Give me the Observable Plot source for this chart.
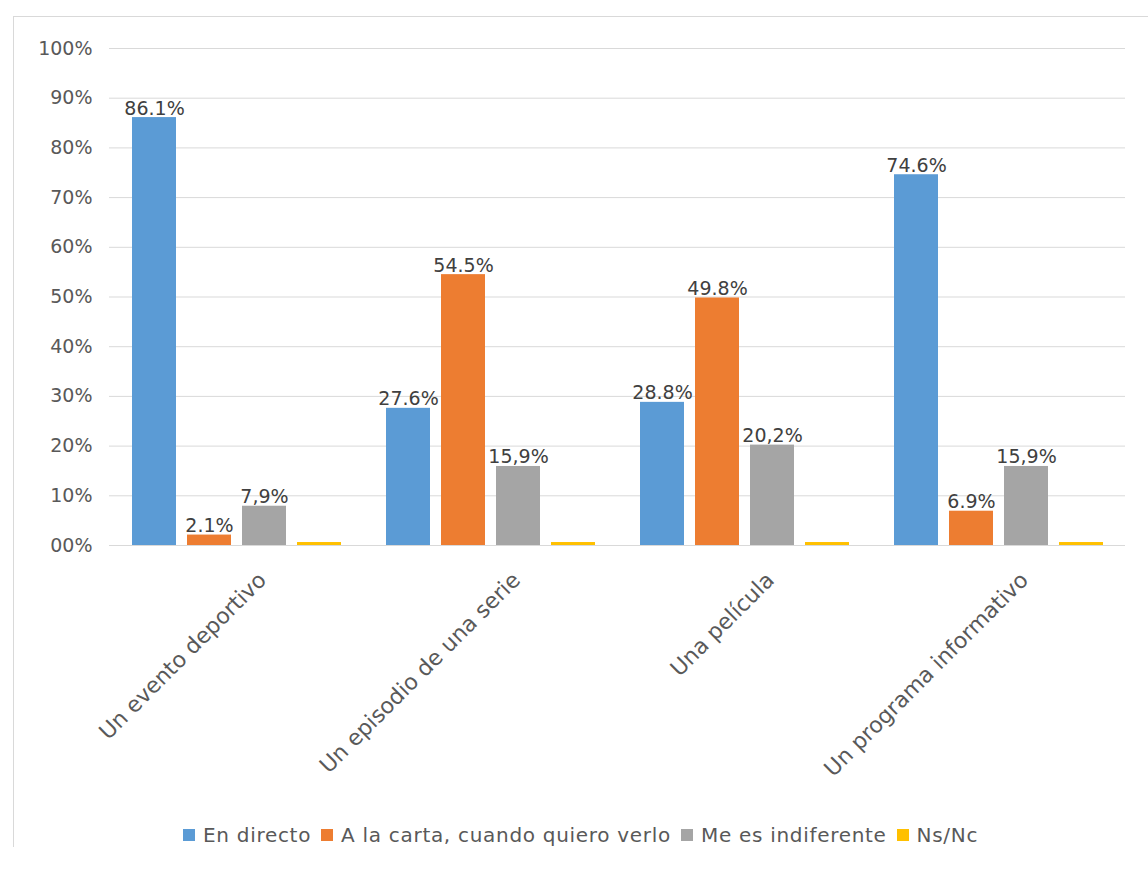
<!DOCTYPE html>
<html>
<head>
<meta charset="utf-8">
<script src="https://cdn.jsdelivr.net/npm/d3@7"></script>
<script src="https://cdn.jsdelivr.net/npm/@observablehq/plot@0.6"></script>
<style>
  html, body { margin: 0; padding: 0; background: #fff; }
  body { width: 1148px; height: 871px; position: relative; overflow: hidden; font-family: "DejaVu Sans", sans-serif; }
  #frame { position: absolute; left: 13px; top: 16px; width: 1140px; height: 830px; border-left: 1px solid #d9d9d9; border-top: 1px solid #d9d9d9; }
  #chart { position: absolute; left: 0; top: 0; }
  #legend { position: absolute; left: 183px; top: 823px; display: flex; align-items: center; font-size: 20px; letter-spacing: 0.7px; color: #595959; white-space: nowrap; }
  #legend .item { display: flex; align-items: center; margin-right: 10px; }
  #legend .sw { width: 12px; height: 12px; margin-right: 8px; }
</style>
</head>
<body>
<div id="frame"></div>
<div id="chart"></div>
<div id="legend"></div>
<script>
const categories = ["Un evento deportivo", "Un episodio de una serie", "Una película", "Un programa informativo"];
const series = ["En directo", "A la carta, cuando quiero verlo", "Me es indiferente", "Ns/Nc"];
const colors = ["#5b9bd5", "#ed7d31", "#a5a5a5", "#ffc000"];

const enDirecto = [86.1, 27.6, 28.8, 74.6];
const aLaCarta = [2.1, 54.5, 49.8, 6.9];
const indiferente = [7.9, 15.9, 20.2, 15.9];
const nsnc = [0.6, 0.6, 0.6, 0.6];

const enDirectoLabels = ["86.1%", "27.6%", "28.8%", "74.6%"];
const aLaCartaLabels = ["2.1%", "54.5%", "49.8%", "6.9%"];
const indiferenteLabels = ["7,9%", "15,9%", "20,2%", "15,9%"];
const nsncLabels = ["", "", "", ""];

const yTicks = [0, 10, 20, 30, 40, 50, 60, 70, 80, 90, 100];
const yTickLabels = ["00%", "10%", "20%", "30%", "40%", "50%", "60%", "70%", "80%", "90%", "100%"];

const valuesBySeries = [enDirecto, aLaCarta, indiferente, nsnc];
const labelsBySeries = [enDirectoLabels, aLaCartaLabels, indiferenteLabels, nsncLabels];
const data = [];
categories.forEach((c, i) => {
  series.forEach((s, j) => {
    data.push({cat: c, series: s, value: valuesBySeries[j][i], label: labelsBySeries[j][i]});
  });
});
const yLabelMap = new Map(yTicks.map((t, i) => [t, yTickLabels[i]]));

const chart = Plot.plot({
  width: 1148,
  height: 800,
  marginLeft: 108,
  marginRight: 23,
  marginTop: 48,
  marginBottom: 255,
  style: {fontFamily: "DejaVu Sans, sans-serif", color: "#595959", background: "transparent"},
  fx: {domain: categories, padding: 0, label: null, axis: null},
  x: {domain: series, paddingInner: 0.2, paddingOuter: 0.37, axis: null},
  y: {domain: [0, 100], axis: null},
  color: {domain: series, range: colors},
  marks: [
    Plot.ruleY(yTicks, {stroke: "#d9d9d9", strokeWidth: 1}),
    Plot.axisY({ticks: yTicks, tickFormat: d => yLabelMap.get(d), tickSize: 0, tickPadding: 17, fontSize: 19, label: null}),
    Plot.barY(data, {fx: "cat", x: "series", y: "value", fill: "series"}),
    Plot.text(data, {fx: "cat", x: "series", y: "value", text: "label", lineAnchor: "bottom", dy: -3, fontSize: 19, fill: "#404040"}),
    Plot.axisFx({anchor: "bottom", tickRotate: -45, tickSize: 0, tickPadding: 0, dx: 26, dy: 31, label: null, fontSize: 22})
  ]
});
document.getElementById("chart").appendChild(chart);

const legend = document.getElementById("legend");
series.forEach((s, i) => {
  const item = document.createElement("div");
  item.className = "item";
  const sw = document.createElement("div");
  sw.className = "sw";
  sw.style.background = colors[i];
  const t = document.createElement("span");
  t.textContent = s;
  item.appendChild(sw);
  item.appendChild(t);
  legend.appendChild(item);
});
</script>
</body>
</html>
